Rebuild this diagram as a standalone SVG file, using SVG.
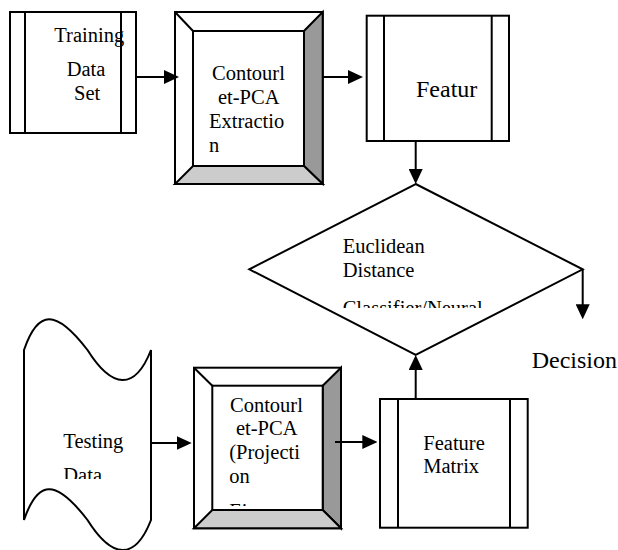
<svg xmlns="http://www.w3.org/2000/svg" width="618" height="550" viewBox="0 0 618 550">
  <style>
    .box { fill: #ffffff; stroke: #000000; stroke-width: 2; }
    .ln { fill: none; stroke: #000000; stroke-width: 2; }
    .bev-top { fill: #ffffff; stroke: #000000; stroke-width: 2; stroke-linejoin: miter; }
    .bev-right { fill: #999999; stroke: #000000; stroke-width: 2; }
    .bev-bottom { fill: #cccccc; stroke: #000000; stroke-width: 2; }
    .conn { fill: none; stroke: #000000; stroke-width: 2; }
    .t { font-family: 'Liberation Serif', 'DejaVu Serif', serif; font-size: 20.5px; fill: #000000; }
    .big { font-size: 24px; }
  </style>
  <defs>
    <marker id="arrow" markerUnits="userSpaceOnUse" markerWidth="15" markerHeight="14" refX="7" refY="7" orient="auto">
      <path d="M0,0 L15,7 L0,14 Z" fill="#000000"/>
    </marker>
    <clipPath id="clip-classifier"><rect x="300" y="230" width="250" height="78"/></clipPath>
    <clipPath id="clip-testing"><rect x="30" y="400" width="115" height="79"/></clipPath>
    <clipPath id="clip-projection"><rect x="212" y="386" width="110" height="120"/></clipPath>
  </defs>

  <!-- Training data set: predefined-process box -->
  <g id="training">
    <rect class="box" x="10" y="12" width="126" height="121"/>
    <line class="ln" x1="25" y1="12" x2="25" y2="133"/>
    <line class="ln" x1="121" y1="12" x2="121" y2="133"/>
    <text class="t" x="54.3" y="42">Training</text>
    <text class="t" x="66.7" y="76">Data</text>
    <text class="t" x="74" y="100">Set</text>
  </g>

  <!-- Contourlet-PCA extraction: bevel box -->
  <g id="extraction">
    <rect class="bev-top" x="175" y="12" width="147.7" height="172"/>
    <polygon class="bev-right" points="322.7,12 322.7,184 304,166 304,31"/>
    <polygon class="bev-bottom" points="175,184 322.7,184 304,166 193,166"/>
    <line class="ln" x1="175" y1="12" x2="193" y2="31"/>
    <rect class="box" x="193" y="31" width="111" height="135"/>
    <text class="t" x="212" y="80">Contourl</text>
    <text class="t" x="218" y="104">et-PCA</text>
    <text class="t" x="209" y="128">Extractio</text>
    <text class="t" x="209" y="152">n</text>
  </g>

  <!-- Feature store -->
  <g id="feature">
    <rect class="box" x="366.7" y="15.7" width="142.3" height="125.3"/>
    <line class="ln" x1="384" y1="15.7" x2="384" y2="141"/>
    <line class="ln" x1="491.7" y1="15.7" x2="491.7" y2="141"/>
    <text class="t big" x="416" y="96.7">Featur</text>
  </g>

  <!-- Classifier decision diamond -->
  <g id="classifier">
    <polygon class="box" points="415.7,184 582.7,269.3 415.7,355 249.3,269.3"/>
    <text class="t" x="342.7" y="253.3">Euclidean</text>
    <text class="t" x="342.7" y="276.7">Distance</text>
    <text class="t" x="342.7" y="315" clip-path="url(#clip-classifier)">Classifier/Neural</text>
  </g>

  <!-- Decision label -->
  <g id="decision">
    <text class="t big" x="531.7" y="367.7">Decision</text>
  </g>

  <!-- Testing data: punched-tape shape -->
  <g id="testing">
    <path class="box" d="M24,350 C38,309 56,309 87.5,350 C112,389 135,391 151,350 L151,520 C135,561 112,559 87.5,520 C56,479 38,479 24,520 Z"/>
    <text class="t" x="63.3" y="448.3">Testing</text>
    <text class="t" x="63.3" y="482" clip-path="url(#clip-testing)">Data</text>
  </g>

  <!-- Contourlet-PCA projection: bevel box -->
  <g id="projection">
    <rect class="bev-top" x="194" y="367.7" width="147" height="160.6"/>
    <polygon class="bev-right" points="341,367.7 341,528.3 322.7,510 322.7,385.7"/>
    <polygon class="bev-bottom" points="194,528.3 341,528.3 322.7,510 212.3,510"/>
    <line class="ln" x1="194" y1="367.7" x2="212.3" y2="385.7"/>
    <rect class="box" x="212.3" y="385.7" width="110.4" height="124.3"/>
    <text class="t" x="230" y="411.7">Contourl</text>
    <text class="t" x="236" y="435">et-PCA</text>
    <text class="t" x="229.3" y="459.3">(Projecti</text>
    <text class="t" x="229.3" y="482.7">on</text>
    <text class="t" x="229.3" y="517.6" clip-path="url(#clip-projection)">Eigen</text>
  </g>

  <!-- Feature matrix -->
  <g id="feature-matrix">
    <rect class="box" x="380" y="399" width="147.7" height="128.7"/>
    <line class="ln" x1="398" y1="399" x2="398" y2="527.7"/>
    <line class="ln" x1="510" y1="399" x2="510" y2="527.7"/>
    <text class="t" x="423.3" y="450">Feature</text>
    <text class="t" x="423.3" y="473.3">Matrix</text>
  </g>

  <!-- Connectors -->
  <g id="connectors">
    <line class="conn" x1="136" y1="77" x2="171" y2="77" marker-end="url(#arrow)"/>
    <line class="conn" x1="322.7" y1="77" x2="355" y2="77" marker-end="url(#arrow)"/>
    <line class="conn" x1="415.7" y1="141" x2="415.7" y2="176" marker-end="url(#arrow)"/>
    <line class="conn" x1="582.7" y1="269.3" x2="582.7" y2="311.3" marker-end="url(#arrow)"/>
    <line class="conn" x1="151" y1="443" x2="183.7" y2="443" marker-end="url(#arrow)"/>
    <line class="conn" x1="335" y1="442" x2="369.3" y2="442" marker-end="url(#arrow)"/>
    <line class="conn" x1="415.7" y1="399" x2="415.7" y2="363" marker-end="url(#arrow)"/>
  </g>
</svg>
